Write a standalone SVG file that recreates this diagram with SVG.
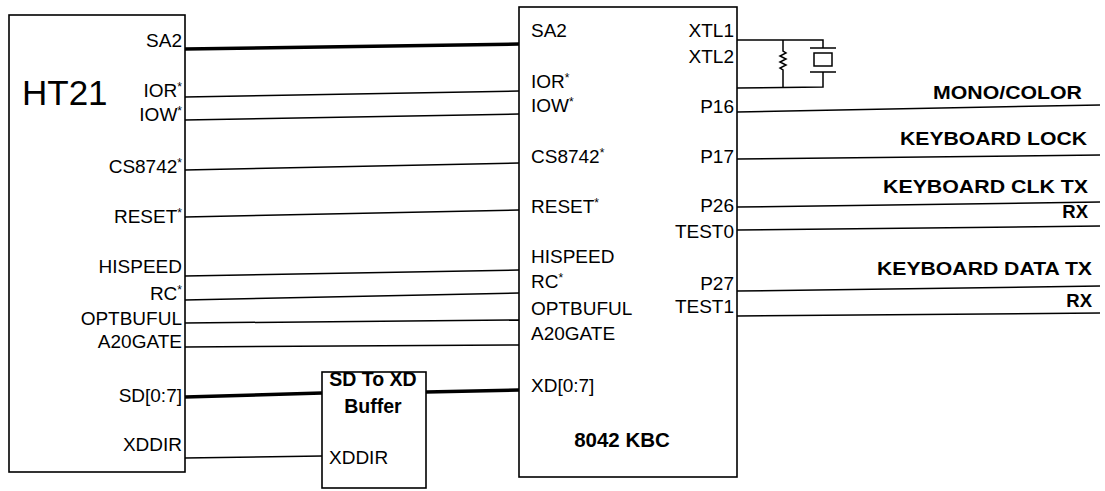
<svg xmlns="http://www.w3.org/2000/svg" width="1105" height="491" viewBox="0 0 1105 491">
<style>
.box{fill:none;stroke:#000;stroke-width:1.6}
.w{stroke:#000;stroke-width:1.5;fill:none}
.bus{stroke:#000;stroke-width:3.5;fill:none}
text{font-family:"Liberation Sans",Arial,Helvetica,sans-serif;fill:#000}
.pin{font-size:19px}
.pr{font-size:19px;text-anchor:end}
.ast{font-size:12px}
.sig{font-size:18.5px;font-weight:bold;text-anchor:end}
.bold{font-weight:bold}
</style>
<rect width="1105" height="491" fill="#fff"/>
<g id="connectors">
<path class="bus" d="M185,49 L519,44"/>
<path class="w" d="M185,97 L519,91"/>
<path class="w" d="M185,120 L519,114"/>
<path class="w" d="M185,170 L519,163"/>
<path class="w" d="M185,217 L519,210"/>
<path class="w" d="M185,276 L519,270"/>
<path class="w" d="M185,300 L519,293"/>
<path class="w" d="M185,323 L519,320"/>
<path class="w" d="M185,347 L519,345"/>
<path class="bus" d="M185,397 L322,393"/>
<path class="bus" d="M426,392 L519,390"/>
<path class="w" d="M185,458 L322,456"/>
<path class="w" d="M737,40 L823,40 L823,48"/>
<path class="w" d="M737,88 L823,87 L823,72"/>
<path class="w" d="M783,40 L783,51 L786,53 L780,56 L786,59 L780,62 L786,65 L780,68 L783,70 L783,87"/>
<path class="w" d="M810,48 L836,48 M810,72 L836,72"/>
<rect class="w" x="814" y="53" width="18" height="13"/>
<path class="w" d="M737,112 L1100,105"/>
<path class="w" d="M737,159 L1100,155"/>
<path class="w" d="M737,207 L1100,202"/>
<path class="w" d="M737,230 L1100,226"/>
<path class="w" d="M737,291 L1100,286"/>
<path class="w" d="M737,316 L1100,313"/>
</g>
<g id="ht21">
<rect class="box" x="9" y="15" width="176" height="457"/>
<text x="22" y="105" font-size="35">HT21</text>
<text class="pr" x="182" y="47">SA2</text>
<text class="pr" x="182" y="97">IOR<tspan class="ast" dy="-6">*</tspan></text>
<text class="pr" x="182" y="121">IOW<tspan class="ast" dy="-6">*</tspan></text>
<text class="pr" x="182" y="173">CS8742<tspan class="ast" dy="-6">*</tspan></text>
<text class="pr" x="182" y="223">RESET<tspan class="ast" dy="-6">*</tspan></text>
<text class="pr" x="182" y="273">HISPEED</text>
<text class="pr" x="182" y="300">RC<tspan class="ast" dy="-6">*</tspan></text>
<text class="pr" x="182" y="325">OPTBUFUL</text>
<text class="pr" x="182" y="348">A20GATE</text>
<text class="pr" x="182" y="402">SD[0:7]</text>
<text class="pr" x="182" y="451">XDDIR</text>
</g>
<g id="buffer">
<rect class="box" x="322" y="372" width="104" height="116"/>
<text class="bold" x="373" y="386" font-size="19.5" text-anchor="middle">SD To XD</text>
<text class="bold" x="373" y="413" font-size="19.5" text-anchor="middle">Buffer</text>
<text class="pin" x="329" y="464">XDDIR</text>
</g>
<g id="kbc">
<rect class="box" x="519" y="7" width="218" height="470"/>
<text class="pin" x="531" y="37">SA2</text>
<text class="pin" x="531" y="88">IOR<tspan class="ast" dy="-6">*</tspan></text>
<text class="pin" x="531" y="112">IOW<tspan class="ast" dy="-6">*</tspan></text>
<text class="pin" x="531" y="163">CS8742<tspan class="ast" dy="-6">*</tspan></text>
<text class="pin" x="531" y="213">RESET<tspan class="ast" dy="-6">*</tspan></text>
<text class="pin" x="531" y="263">HISPEED</text>
<text class="pin" x="531" y="288">RC<tspan class="ast" dy="-6">*</tspan></text>
<text class="pin" x="531" y="315">OPTBUFUL</text>
<text class="pin" x="531" y="340">A20GATE</text>
<text class="pin" x="531" y="392">XD[0:7]</text>
<text class="bold" x="622" y="447" font-size="20.5" text-anchor="middle">8042 KBC</text>
<text class="pr" x="734" y="37">XTL1</text>
<text class="pr" x="734" y="63">XTL2</text>
<text class="pr" x="734" y="113">P16</text>
<text class="pr" x="734" y="163">P17</text>
<text class="pr" x="734" y="212">P26</text>
<text class="pr" x="734" y="238">TEST0</text>
<text class="pr" x="734" y="290">P27</text>
<text class="pr" x="734" y="313">TEST1</text>
</g>
<g id="signals">
<text class="sig" x="1082" y="99" textLength="149" lengthAdjust="spacingAndGlyphs">MONO/COLOR</text>
<text class="sig" x="1087" y="145" textLength="187" lengthAdjust="spacingAndGlyphs">KEYBOARD LOCK</text>
<text class="sig" x="1088" y="193" textLength="205" lengthAdjust="spacingAndGlyphs">KEYBOARD CLK TX</text>
<text class="sig" x="1088" y="218">RX</text>
<text class="sig" x="1092" y="275" textLength="215" lengthAdjust="spacingAndGlyphs">KEYBOARD DATA TX</text>
<text class="sig" x="1092" y="307">RX</text>
</g>
</svg>
